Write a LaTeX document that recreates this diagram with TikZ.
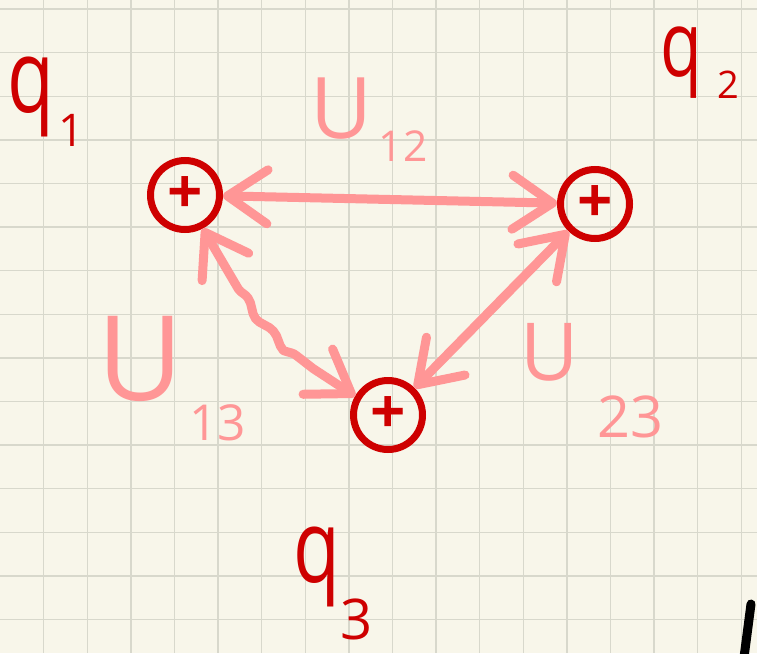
\documentclass[tikz,border=0pt]{standalone}
\usepackage{fontspec}
\setmainfont{Open Sans}
\usetikzlibrary{arrows.meta,decorations.pathmorphing}

\definecolor{paper}{RGB}{248,246,234}
\definecolor{gridln}{RGB}{216,216,204}
\definecolor{ink}{RGB}{206,0,0}
\definecolor{pinkink}{RGB}{255,150,150}

% main letter, subscript, drop, scale, kern
\newcommand{\lbl}[5]{#1\kern#5em\raisebox{-#3em}{\scalebox{#4}{#2}}}

\tikzset{
  gridline/.style={draw=gridln, line width=1.4pt},
  charge/.style={circle, draw=ink, line width=7pt, minimum size=69pt, inner sep=0pt,
    text=ink, font=\fontsize{62}{62}\selectfont\bfseries},
  qlabel/.style={anchor=base west, inner sep=0pt, text=ink},
  ulabel/.style={anchor=base west, inner sep=0pt, text=pinkink},
  pair/.style={draw=pinkink, line width=9pt, line cap=round, line join=round,
    >={Straight Barb[length=40pt,width=54pt,round]}, <->},
}

\begin{document}
\begin{tikzpicture}[x=1pt, y=1pt]
    \useasboundingbox (0,0) rectangle (757,-653);
    \fill[paper] (0,0) rectangle (757,-653);
    \clip (0,0) rectangle (757,-653);
    % squared paper
    \foreach \k in {1,...,17} \draw[gridline] (43.6*\k,0) -- (43.6*\k,-653);
    \foreach \k in {0,...,14} \draw[gridline] (0,-9-43.6*\k) -- (757,-9-43.6*\k);

    \node[charge] (c1) at (185,-195) {+};
    \node[charge] (c2) at (595,-204) {+};
    \node[charge] (c3) at (388,-415) {+};

    \node[qlabel, font=\fontsize{85}{85}\selectfont] (q1) at (7,-112)
        {\lbl{\scalebox{0.9}[1.2]{q}}{1}{0.41}{0.53}{0.05}};
    \node[qlabel, font=\fontsize{76}{76}\selectfont] (q2) at (660,-76)
        {\lbl{\scalebox{0.9}[1.2]{q}}{2}{0.3}{0.5}{0.2}};
    \node[qlabel, font=\fontsize{85}{85}\selectfont] (q3) at (293,-582)
        {\lbl{\scalebox{0.9}[1.2]{q}}{3}{0.68}{0.66}{0}};

    \draw[pair] (c1) -- (c2);
    \draw[pair, decorate, decoration={snake, amplitude=3pt, segment length=42pt,
        pre length=70pt, post length=50pt}] (c1) to[out=-62, in=150] (c3);
    \draw[pair] (c2) -- (c3);

    \node[ulabel, font=\fontsize{85}{85}\selectfont] (u12) at (310,-138)
        {\lbl{U}{12}{0.28}{0.5}{0.08}};
    \node[ulabel, font=\fontsize{118}{118}\selectfont] (u13) at (97,-400)
        {\lbl{U}{13}{0.34}{0.42}{0.05}};
    \node[ulabel, font=\fontsize{80}{80}\selectfont] (u23) at (520,-380)
        {\lbl{U}{23}{0.72}{0.72}{0.24}};

    % stray pen stroke
    \draw[line width=9pt, line cap=round] (751,-604) -- (743,-665);
\end{tikzpicture}
\end{document}
